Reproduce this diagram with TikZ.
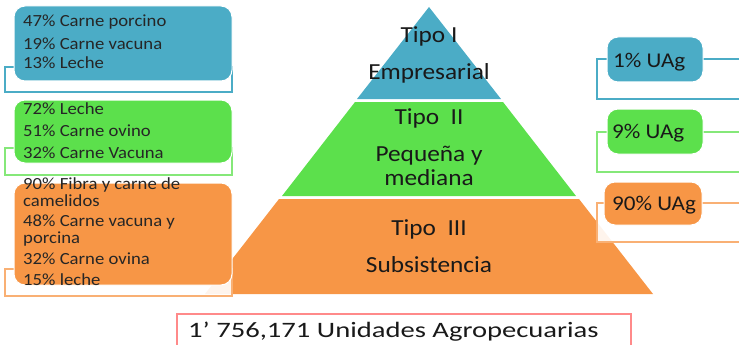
\documentclass[tikz,border=0pt]{standalone}
\usepackage{fontspec}
\setmainfont[FakeStretch=1.1]{Carlito}
\definecolor{tipoazul}{HTML}{4BACC6}
\definecolor{tipoverde}{HTML}{5CE04C}
\definecolor{tiponaranja}{HTML}{F79646}
\definecolor{marcorojo}{HTML}{FF8A8A}
\begin{document}
\begin{tikzpicture}[x=1pt,y=-1pt]
        \tikzstyle{caja}=[draw=white,line width=1pt,rounded corners=11pt]
        \tikzstyle{marco}=[line width=1.6pt,fill=white,fill opacity=0.9]
        \tikzstyle{dato}=[anchor=base west,inner sep=0pt,text=black!85,font=\fontsize{17}{20}\selectfont]
        \tikzstyle{nivel}=[anchor=base,inner sep=0pt,text=black!90,font=\fontsize{23}{26}\selectfont]
        \tikzstyle{pct}=[anchor=base west,inner sep=0pt,text=black!90,font=\fontsize{21}{24}\selectfont]
       \useasboundingbox (0,0) rectangle (739,345);
       % piramide
       \begin{scope}
         \fill[tipoazul] (429,7) -- (501,99) -- (357,99) -- cycle;
         \fill[tipoverde] (355,102) -- (503,102) -- (576,196) -- (282,196) -- cycle;
         \fill[tiponaranja] (279,199) -- (579,199) -- (653,294) -- (205,294) -- cycle;
         \node [nivel] (t1) at (429,43) {Tipo I};
         \node [nivel] (e1) at (429,79) {Empresarial};
         \node [nivel] (t2) at (429,124) {Tipo\ \ II};
         \node [nivel] (e2a) at (429,161) {Pequeña y};
         \node [nivel] (e2b) at (429,185) {mediana};
         \node [nivel] (t3) at (429,235) {Tipo\ \ III};
         \node [nivel] (e3) at (429,272) {Subsistencia};
       \end{scope}
       % cajas izquierda
       \begin{scope}
         \draw[marco,draw=tipoazul] (5,67) rectangle (232,92);
         \draw[marco,draw=tipoverde!75] (5,148) rectangle (232,175);
         \draw[marco,draw=tiponaranja!75] (5,269) rectangle (232,296);
         \filldraw[caja,fill=tipoazul] (14,6) rectangle (232,81);
         \filldraw[caja,fill=tipoverde] (14,100) rectangle (232,163);
         \filldraw[caja,fill=tiponaranja] (14,183) rectangle (232,285);
         \node [dato] (a1) at (23,27) {47\% Carne porcino};
         \node [dato] (a2) at (23,49) {19\% Carne vacuna};
         \node [dato] (a3) at (23,69) {13\% Leche};
         \node [dato] (b1) at (23,114) {72\% Leche};
         \node [dato] (b2) at (23,136) {51\% Carne ovino};
         \node [dato] (b3) at (23,158) {32\% Carne Vacuna};
         \node [dato] (c1) at (23,189) {90\% Fibra y carne de};
         \node [dato] (c2) at (23,206) {camelidos};
         \node [dato] (c3) at (23,226) {48\% Carne vacuna y};
         \node [dato] (c4) at (23,243) {porcina};
         \node [dato] (c5) at (23,264) {32\% Carne ovina};
         \node [dato] (c6) at (23,285) {15\% leche};
       \end{scope}
       % cajas derecha
       \begin{scope}
         \draw[marco,draw=tipoazul] (597,59) rectangle (745,99);
         \draw[marco,draw=tipoverde!75] (597,132) rectangle (745,172);
         \draw[marco,draw=tiponaranja!75] (597,203) rectangle (745,242);
         \filldraw[caja,fill=tipoazul] (607,37) rectangle (703,82);
         \filldraw[caja,fill=tipoverde] (607,109) rectangle (703,154);
         \filldraw[caja,fill=tiponaranja] (604,182) rectangle (702,225);
         \node [pct] (u1) at (613,67) {1\% UAg};
         \node [pct] (u2) at (612,138) {9\% UAg};
         \node [pct] (u3) at (612,210) {90\% UAg};
       \end{scope}
       \draw[marcorojo,line width=1.2pt] (177,314) rectangle (631,352);
       \node [pct,font=\fontsize{22}{24}\selectfont\addfontfeatures{FakeStretch=1.3}] (total) at (188,337) {1’ 756,171 Unidades Agropecuarias};
      \end{tikzpicture}
\end{document}
